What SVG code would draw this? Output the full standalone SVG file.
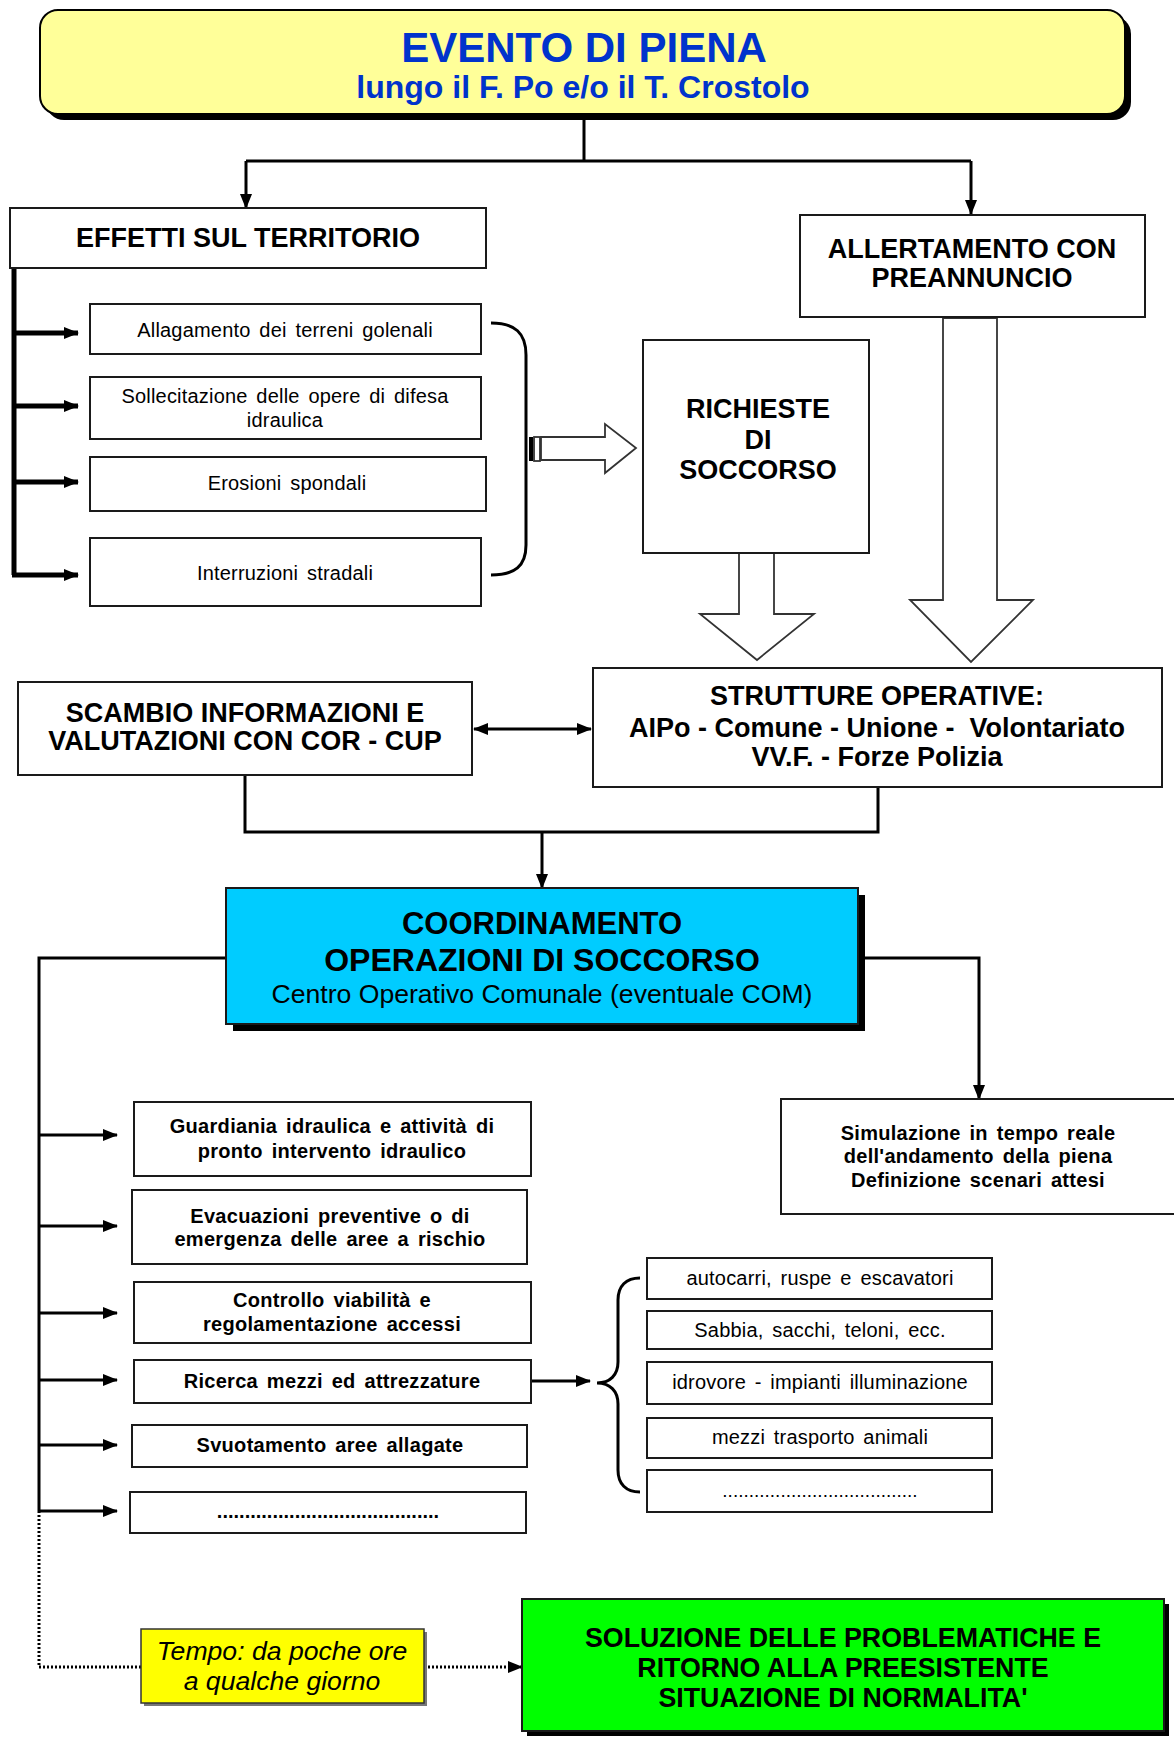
<svg xmlns="http://www.w3.org/2000/svg" width="1174" height="1738" viewBox="0 0 1174 1738">
<defs>
<style>
.box{fill:#fff;stroke:#1a1a1a;stroke-width:2}
.ln{fill:none;stroke:#000;stroke-width:3}
.thick{fill:none;stroke:#000;stroke-width:5}
.dot{fill:none;stroke:#000;stroke-width:3;stroke-dasharray:2 2}
.hollow{fill:#fff;stroke:#333;stroke-width:1.8;stroke-linejoin:miter}
.t{font-family:"Liberation Sans",Arial,sans-serif;text-anchor:middle;fill:#000}
.b{font-weight:bold}
.h26{font-size:27px}
.r20{font-size:20px;word-spacing:3px;letter-spacing:0.2px}
.b20{font-size:20px;font-weight:bold;word-spacing:3px;letter-spacing:0.3px}
.pre{white-space:pre}
</style>
<marker id="ah" markerWidth="15" markerHeight="12" refX="14" refY="6" orient="auto-start-reverse" markerUnits="userSpaceOnUse"><path d="M0,0 L15,6 L0,12 z" fill="#000"/></marker>
</defs>
<rect width="1174" height="1738" fill="#fff"/>

<g id="connectors">
<path class="ln" d="M584,116 V161 M246,161 H971"/>
<path class="ln" d="M246,161 V208" marker-end="url(#ah)"/>
<path class="ln" d="M971,161 V214" marker-end="url(#ah)"/>
<path class="thick" d="M14,266 V575"/>
<path class="thick" d="M12,333 H78" marker-end="url(#ah)"/>
<path class="thick" d="M12,406 H78" marker-end="url(#ah)"/>
<path class="thick" d="M12,482 H78" marker-end="url(#ah)"/>
<path class="thick" d="M12,575 H78" marker-end="url(#ah)"/>
<path class="ln" d="M491,323 C515,323 526,333 526,355 V545 C526,566 515,575 491,575"/>
<rect x="529" y="437" width="4" height="24" fill="#000"/>
<rect x="534" y="437" width="6" height="24" class="hollow"/>
<polygon class="hollow" points="541,437 605,437 605,424 636,448 605,473 605,460 541,460"/>
<polygon class="hollow" points="739,553 774,553 774,614 814,614 757,660 700,614 739,614"/>
<polygon class="hollow" points="943,318 997,318 997,600 1033,600 971,662 910,600 943,600"/>
<path class="ln" d="M474,729 H591" marker-start="url(#ah)" marker-end="url(#ah)"/>
<path class="ln" d="M245,775 V832 H878 V787"/>
<path class="ln" d="M542,832 V888" marker-end="url(#ah)"/>
<path class="ln" d="M226,958 H39 V1511"/>
<path class="ln" d="M858,958 H979 V1099" marker-end="url(#ah)"/>
<path class="ln" d="M39,1135 H117" marker-end="url(#ah)"/>
<path class="ln" d="M39,1226 H117" marker-end="url(#ah)"/>
<path class="ln" d="M39,1313 H117" marker-end="url(#ah)"/>
<path class="ln" d="M39,1380 H117" marker-end="url(#ah)"/>
<path class="ln" d="M39,1445 H117" marker-end="url(#ah)"/>
<path class="ln" d="M39,1511 H117" marker-end="url(#ah)"/>
<path class="ln" d="M531,1381 H590" marker-end="url(#ah)"/>
<path class="ln" d="M640,1278 C626,1278 618,1286 618,1300 V1362 C618,1375 610,1383 597,1383 C610,1383 618,1391 618,1404 V1470 C618,1484 626,1492 640,1492"/>
<path class="dot" d="M39,1511 V1667 H141"/>
<path class="dot" d="M424,1667 H522" marker-end="url(#ah)"/>
</g>

<g id="evento">
<rect x="46" y="16" width="1085" height="104" rx="18" fill="#000"/>
<rect x="40" y="10" width="1085" height="104" rx="18" fill="#FFFF99" stroke="#000" stroke-width="2"/>
<text class="t b" x="584" y="62" font-size="42" style="fill:#0033CC">EVENTO DI PIENA</text>
<text class="t b" x="583" y="98" font-size="32" style="fill:#0033CC">lungo il F. Po e/o il T. Crostolo</text>
</g>

<g id="effetti">
<rect class="box" x="10" y="208" width="476" height="60"/>
<text class="t b h26" x="248" y="247">EFFETTI SUL TERRITORIO</text>
</g>

<g id="allertamento">
<rect class="box" x="800" y="215" width="345" height="102"/>
<text class="t b h26" x="972" y="258">ALLERTAMENTO CON</text>
<text class="t b h26" x="972" y="287">PREANNUNCIO</text>
</g>

<g id="allagamento">
<rect class="box" x="90" y="304" width="391" height="50"/>
<text class="t r20" x="285" y="337">Allagamento dei terreni golenali</text>
</g>
<g id="sollecitazione">
<rect class="box" x="90" y="377" width="391" height="62"/>
<text class="t r20" x="285" y="403">Sollecitazione delle opere di difesa</text>
<text class="t r20" x="285" y="427">idraulica</text>
</g>
<g id="erosioni">
<rect class="box" x="90" y="457" width="396" height="54"/>
<text class="t r20" x="287" y="490">Erosioni spondali</text>
</g>
<g id="interruzioni">
<rect class="box" x="90" y="538" width="391" height="68"/>
<text class="t r20" x="285" y="580">Interruzioni stradali</text>
</g>

<g id="richieste">
<rect class="box" x="643" y="340" width="226" height="213"/>
<text class="t b h26" x="758" y="418">RICHIESTE</text>
<text class="t b h26" x="758" y="449">DI</text>
<text class="t b h26" x="758" y="479">SOCCORSO</text>
</g>

<g id="strutture">
<rect class="box" x="593" y="668" width="569" height="119"/>
<text class="t b h26" x="877" y="705">STRUTTURE OPERATIVE:</text>
<text class="t b h26 pre" x="877" y="737">AIPo - Comune - Unione -  Volontariato</text>
<text class="t b h26" x="877" y="766">VV.F. - Forze Polizia</text>
</g>

<g id="scambio">
<rect class="box" x="18" y="682" width="454" height="93"/>
<text class="t b h26" x="245" y="722">SCAMBIO INFORMAZIONI E</text>
<text class="t b h26" x="245" y="750">VALUTAZIONI CON COR - CUP</text>
</g>

<g id="coordinamento">
<rect x="233" y="895" width="632" height="136" fill="#000"/>
<rect x="226" y="888" width="632" height="136" fill="#00CCFF" stroke="#1a1a1a" stroke-width="2"/>
<text class="t b" x="542" y="934" font-size="31">COORDINAMENTO</text>
<text class="t b" x="542" y="971" font-size="32">OPERAZIONI DI SOCCORSO</text>
<text class="t" x="542" y="1003" font-size="26.6">Centro Operativo Comunale (eventuale COM)</text>
</g>

<g id="simulazione">
<rect class="box" x="781" y="1099" width="400" height="115"/>
<text class="t b20" x="978" y="1140">Simulazione in tempo reale</text>
<text class="t b20" x="978" y="1163">dell'andamento della piena</text>
<text class="t b20" x="978" y="1187">Definizione scenari attesi</text>
</g>

<g id="guardiania">
<rect class="box" x="134" y="1102" width="397" height="74"/>
<text class="t b20" x="332" y="1133">Guardiania idraulica e attività di</text>
<text class="t b20" x="332" y="1158">pronto intervento idraulico</text>
</g>
<g id="evacuazioni">
<rect class="box" x="132" y="1190" width="395" height="74"/>
<text class="t b20" x="330" y="1223">Evacuazioni preventive o di</text>
<text class="t b20" x="330" y="1246">emergenza delle aree a rischio</text>
</g>
<g id="controllo">
<rect class="box" x="134" y="1282" width="397" height="61"/>
<text class="t b20" x="332" y="1307">Controllo viabilità e</text>
<text class="t b20" x="332" y="1331">regolamentazione accessi</text>
</g>
<g id="ricerca">
<rect class="box" x="134" y="1360" width="397" height="43"/>
<text class="t b20" x="332" y="1388">Ricerca mezzi ed attrezzature</text>
</g>
<g id="svuotamento">
<rect class="box" x="132" y="1425" width="395" height="42"/>
<text class="t b20" x="330" y="1452">Svuotamento aree allagate</text>
</g>
<g id="altro-attivita">
<rect class="box" x="130" y="1492" width="396" height="41"/>
<text class="t" x="328" y="1518" font-size="20" font-weight="bold">........................................</text>
</g>

<g id="autocarri">
<rect class="box" x="647" y="1258" width="345" height="41"/>
<text class="t r20" x="820" y="1285">autocarri, ruspe e escavatori</text>
</g>
<g id="sabbia">
<rect class="box" x="647" y="1311" width="345" height="38"/>
<text class="t r20" x="820" y="1337">Sabbia, sacchi, teloni, ecc.</text>
</g>
<g id="idrovore">
<rect class="box" x="647" y="1362" width="345" height="42"/>
<text class="t r20" x="820" y="1389">idrovore - impianti illuminazione</text>
</g>
<g id="mezzi">
<rect class="box" x="647" y="1418" width="345" height="40"/>
<text class="t r20" x="820" y="1444">mezzi trasporto animali</text>
</g>
<g id="altro-mezzi">
<rect class="box" x="647" y="1470" width="345" height="42"/>
<text class="t" x="820" y="1497" font-size="19">.....................................</text>
</g>

<g id="tempo">
<rect x="144" y="1632" width="283" height="74" fill="#777"/>
<rect x="141" y="1629" width="283" height="74" fill="#FFFF00" stroke="#333" stroke-width="1.5"/>
<text class="t" x="282" y="1660" font-size="26.6" font-style="italic">Tempo: da poche ore</text>
<text class="t" x="282" y="1690" font-size="26.6" font-style="italic">a qualche giorno</text>
</g>

<g id="soluzione">
<rect x="527" y="1604" width="642" height="132" fill="#000"/>
<rect x="522" y="1599" width="642" height="132" fill="#00FF00" stroke="#1a1a1a" stroke-width="2"/>
<text class="t b" x="843" y="1647" font-size="26.8">SOLUZIONE DELLE PROBLEMATICHE E</text>
<text class="t b" x="843" y="1677" font-size="26.8">RITORNO ALLA PREESISTENTE</text>
<text class="t b" x="843" y="1707" font-size="26.8">SITUAZIONE DI NORMALITA'</text>
</g>
</svg>
